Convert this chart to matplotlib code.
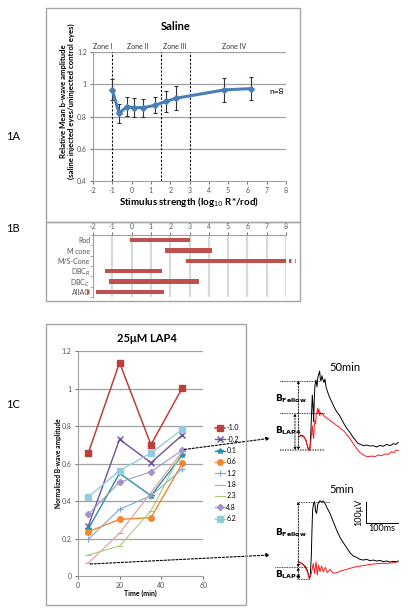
import matplotlib
matplotlib.use("Agg")
import matplotlib.pyplot as plt
from matplotlib.patches import Rectangle

plt.rcParams['font.family'] = ['Lato', 'DejaVu Sans']
plt.rcParams['axes.unicode_minus'] = False

W, H = 408, 615
fig = plt.figure(figsize=(W / 100, H / 100), dpi=100)


def rect(x0, y0, x1, y1):
    return [x0 / W, 1 - y1 / H, (x1 - x0) / W, (y1 - y0) / H]


def fx(x):
    return x / W


def fy(y):
    return 1 - y / H


GRAY = '#A6A6A6'
TICKC = '#555555'

# ---------------- DATA ----------------
# 1A
stim = [-1.0, -0.65, -0.25, 0.1, 0.6, 1.2, 1.8, 2.3, 4.8, 6.2]
rel_amp = [0.965, 0.82, 0.861, 0.855, 0.855, 0.869, 0.894, 0.913, 0.965, 0.973]
rel_err = [0.065, 0.058, 0.058, 0.058, 0.055, 0.05, 0.063, 0.075, 0.072, 0.072]
zone_bounds = [-1.0, 1.5, 3.0]
zone_names = ['Zone I', 'Zone II', 'Zone III', 'Zone IV']
zone_label_x = [-1.5, 0.3, 2.25, 5.3]

# 1B
cells = ['Rod', 'M cone', 'M/S-Cone', 'DBC$_R$', 'DBC$_C$', 'AIIAC']
range_start = [-0.1, 1.72, 2.81, -1.4, -1.17, -1.86]
range_end = [3.0, 4.14, 8.07, 1.6, 3.5, 1.7]

# 1C
times = [5, 20, 35, 50]
series_names = ['-1.0', '-0.2', '0.1', '0.6', '1.2', '1.8', '2.3', '4.8', '6.2']
series_vals = {
    '-1.0': [0.654, 1.138, 0.70, 1.004],
    '-0.2': [0.265, 0.729, 0.604, 0.752],
    '0.1': [0.25, 0.548, 0.428, 0.645],
    '0.6': [0.236, 0.302, 0.311, 0.601],
    '1.2': [0.195, 0.356, 0.428, 0.571],
    '1.8': [0.068, 0.228, 0.445, 0.665],
    '2.3': [0.112, 0.16, 0.347, 0.667],
    '4.8': [0.329, 0.50, 0.556, 0.672],
    '6.2': [0.421, 0.562, 0.656, 0.782],
}

# ERG traces (ms, microvolts)
t50_fellow = [0, 5.2, 10.4, 15.6, 20.8, 25, 29.2, 32.3, 34.4, 36.5, 38.5, 40.6, 42.7, 44.8, 46.9, 49,
              52.1, 55.2, 58.3, 61.5, 63.5, 65.6, 67.7, 70.8, 74, 77.1, 80.2, 83.3, 87.5, 93.8, 101,
              108.3, 116.7, 125, 133.3, 141.7, 150, 158.3, 166.7, 175, 183.3, 191.7, 200, 210.4,
              220.8, 231.3, 241.7, 252.1, 262.5, 272.9, 283.3, 293.8, 302.1, 309.4]
v50_fellow = [0, 7.9, 4.8, -1.6, -17.5, -42.9, -63.5, -66.7, -27, 39.7, 119, 198.4, 150.8, 71.4,
              182.5, 246, 269.8, 238.1, 285.7, 301.6, 312.7, 277.7, 265.1, 290.5, 269.8, 258.7,
              274.6, 238.1, 217.5, 190.5, 166.7, 142.9, 119, 103.2, 79.4, 55.6, 36.5, 20.6, 0,
              -15.9, -31.7, -36.5, -42.9, -39.7, -44.4, -42.9, -49.2, -41.3, -46, -36.5, -42.9,
              -33.3, -36.5, -27]
t50_lap4 = [0, 5.2, 10.4, 15.6, 20.8, 25, 29.2, 32.3, 35.4, 38.5, 40.6, 42.7, 44.8, 46.9, 49, 51,
            53.1, 55.2, 57.3, 59.4, 61.5, 63.5, 66.7, 69.8, 72.9, 77.1, 83.3, 90.6, 97.9, 106.3,
            114.6, 122.9, 131.3, 139.6, 147.9, 156.3, 164.6, 172.9, 181.3, 189.6, 197.9, 206.3,
            215.6, 226, 236.5, 246.9, 257.3, 267.7, 278.1, 288.5, 295.8, 302.1, 309.4]
v50_lap4 = [0, 4.8, 1.6, -3.2, -17.5, -42.9, -63.5, -66.7, -36.5, 23.8, 52.4, 7.9, -7.9, 47.6,
            79.4, 63.5, 106.3, 119, 134.9, 111.1, 131.7, 100, 115.9, 106.3, 111.1, 100, 90.5, 84.1,
            74.6, 66.7, 55.6, 47.6, 36.5, 27, 11.1, -4.8, -23.8, -42.9, -60.3, -76.2, -84.1,
            -92.1, -95.2, -92.1, -95.2, -87.3, -90.5, -82.5, -84.1, -71.4, -76.2, -63.5, -66.7]
t5_fellow = [0, 10.4, 20.8, 28.1, 34.4, 37.5, 40.6, 42.7, 44.8, 47.9, 51.0, 54.2, 57.3, 60.4,
             64.6, 67.7, 72.9, 78.1, 83.3, 90.6, 99.0, 109.4, 119.8, 130.2, 140.6, 151.0, 161.5,
             171.9, 182.3, 192.7, 203.1, 213.5, 223.9, 234.4, 244.8, 255.2, 265.6, 276.0, 286.5,
             296.9, 307.3, 312.5]
v5_fellow = [0, -7.9, -20.6, -39.7, -79.4, -63.5, 23.8, 150.8, 246.0, 277.7, 285.7, 238.1, 230.2,
             269.8, 285.7, 290.5, 284.1, 288.9, 277.7, 254.0, 230.2, 190.5, 150.8, 115.9, 90.5,
             66.7, 42.9, 27.0, 20.6, 11.1, 7.9, 11.1, 4.8, 7.9, 3.2, 6.3, 0, 3.2, -1.6, 1.6, 0, 3.2]
t5_lap4 = [0, 10.4, 20.8, 28.1, 34.4, 38.5, 42.7, 46.9, 51.0, 55.2, 59.4, 63.5, 67.7, 72.9, 78.1,
           84.4, 90.6, 99.0, 109.4, 119.8, 135.4, 151.0, 171.9, 192.7, 213.5, 234.4, 255.2,
           276.0, 296.9, 312.5]
v5_lap4 = [0, -7.9, -23.8, -47.6, -79.4, -71.4, -39.7, -7.9, -55.6, 0, -63.5, -15.9, -47.6,
           -20.6, -47.6, -27.0, -52.4, -36.5, -55.6, -52.4, -42.9, -36.5, -27.0, -20.6, -15.9,
           -11.1, -7.9, -7.9, -4.8, 0]

# ---------------- frames ----------------
for (x0, y0, x1, y1) in [(46, 8, 300, 222), (46, 222, 300, 301), (46, 324, 246, 605)]:
    fig.add_artist(Rectangle((fx(x0), fy(y1)), (x1 - x0) / W, (y1 - y0) / H,
                             transform=fig.transFigure, fill=False, ec=GRAY, lw=1.0))

fig.text(fx(13), fy(137), '1A', fontsize=8, ha='center', va='center')
fig.text(fx(13), fy(229), '1B', fontsize=8, ha='center', va='center')
fig.text(fx(13), fy(405), '1C', fontsize=8, ha='center', va='center')

# ---------------- 1A ----------------
axA = fig.add_axes(rect(93, 52, 286, 181))
axA.set_xlim(-2, 8)
axA.set_ylim(0.4, 1.2)
axA.set_xticks(range(-2, 9))
axA.set_yticks([0.4, 0.6, 0.8, 1.0, 1.2])
axA.set_yticklabels(['0.4', '0.6', '0.8', '1', '1.2'])
for yv in [0.6, 0.8, 1.0, 1.2]:
    axA.axhline(yv, color='#A0A0A0', lw=0.9, zorder=0)
for s in ['top', 'right']:
    axA.spines[s].set_visible(False)
for s in ['left', 'bottom']:
    axA.spines[s].set_color('#A0A0A0')
    axA.spines[s].set_linewidth(0.8)
axA.tick_params(labelsize=5, colors=TICKC, length=2.5, width=0.6, pad=2)
for xb in zone_bounds:
    axA.plot([xb, xb], [0.4, 1.2], ls=(0, (2, 1.5)), color='black', lw=0.8, zorder=1)
for name, xl in zip(zone_names, zone_label_x):
    axA.text(xl, 1.232, name, fontsize=5, ha='center', va='center', color='#333333')
axA.errorbar(stim, rel_amp, yerr=rel_err, color='#4A7EBB', lw=2.2, marker='D', ms=3,
             ecolor='#333333', elinewidth=0.8, capsize=1.6, capthick=0.8, zorder=3)
axA.text(7.53, 0.952, 'n=8', fontsize=6, ha='center', va='center')
fig.text(fx(176), fy(27), 'Saline', fontsize=8, fontweight='bold', ha='center', va='center')
fig.text(fx(67.5), fy(101), 'Relative Mean b-wave amplitude\n(saline injected eyes/uninjected control eyes)',
         fontsize=5.6, fontweight='bold', rotation=90, ha='center', va='center', linespacing=1.05)
fig.text(fx(189), fy(202), 'Stimulus strength (log$_{10}$ R*/rod)', fontsize=7,
         fontweight='bold', ha='center', va='center')

# ---------------- 1B ----------------
axB = fig.add_axes(rect(93, 235, 286, 297))
axB.set_xlim(-2, 8)
axB.set_ylim(5.5, -0.5)
RED = '#C0504D'
for xv in range(-2, 9):
    axB.axvline(xv, color='#D9D9D9', lw=1.6, zorder=0)
ypos = list(range(len(cells)))
axB.barh(ypos, [e - s for s, e in zip(range_start, range_end)], left=range_start,
         height=0.4, color=RED, zorder=2)
axB.plot([8.15, 8.5], [2, 2], color=RED, lw=3, ls=(0, (0.6, 0.9)), clip_on=False, solid_capstyle='butt')
axB.plot([-2.3, -1.95], [5, 5], color=RED, lw=3, ls=(0, (0.6, 0.9)), clip_on=False, solid_capstyle='butt')
axB.xaxis.tick_top()
axB.set_xticks(range(-2, 9))
axB.set_yticks(ypos)
axB.set_yticklabels(cells)
axB.set_yticks([i + 0.5 for i in range(-1, 6)], minor=True)
axB.tick_params(axis='y', which='major', length=0, labelsize=5, colors=TICKC, pad=2)
axB.tick_params(axis='y', which='minor', length=2.5, width=0.6, colors='#A0A0A0')
axB.tick_params(axis='x', labelsize=5, colors=TICKC, length=2, width=0.6, pad=1.5)
for s in ['bottom', 'right']:
    axB.spines[s].set_visible(False)
for s in ['left', 'top']:
    axB.spines[s].set_color('#A0A0A0')
    axB.spines[s].set_linewidth(0.8)

# ---------------- 1C ----------------
axC = fig.add_axes(rect(77.7, 351, 203.3, 576))
axC.set_xlim(0, 60)
axC.set_ylim(0, 1.2)
axC.set_xticks([0, 20, 40, 60])
axC.set_yticks([0, 0.2, 0.4, 0.6, 0.8, 1.0, 1.2])
axC.set_yticklabels(['0', '0.2', '0.4', '0.6', '0.8', '1', '1.2'])
for yv in [0.2, 0.4, 0.6, 0.8, 1.0, 1.2]:
    axC.axhline(yv, color='#A0A0A0', lw=0.9, zorder=0)
for s in ['top', 'right']:
    axC.spines[s].set_visible(False)
for s in ['left', 'bottom']:
    axC.spines[s].set_color('#A0A0A0')
    axC.spines[s].set_linewidth(0.8)
axC.tick_params(labelsize=5, colors=TICKC, length=2.5, width=0.6, pad=2)

styles = {
    '-1.0': dict(color='#B8403D', marker='s', ms=4.5, lw=1.1),
    '-0.2': dict(color='#6F4F9C', marker='x', ms=4, mew=1.0, lw=1.0),
    '0.1': dict(color='#2C8EA8', marker='*', ms=4, lw=1.0),
    '0.6': dict(color='#F0882E', marker='o', ms=4, lw=1.0),
    '1.2': dict(color='#7FA6D6', marker='+', ms=4.5, mew=0.8, lw=0.8),
    '1.8': dict(color='#E09A98', marker='_', ms=4, mew=0.8, lw=0.8),
    '2.3': dict(color='#A6CC7A', marker='_', ms=4, mew=0.8, lw=0.8),
    '4.8': dict(color='#A393C8', marker='D', ms=3.2, lw=0.8),
    '6.2': dict(color='#93CDDD', marker='s', ms=5, lw=1.0),
}
handles = []
for name in series_names:
    ln, = axC.plot(times, series_vals[name], label=name, zorder=3, **styles[name])
    handles.append(ln)
fig.legend(handles=handles, loc='upper left', bbox_to_anchor=(fx(214.5), fy(424.5)),
           frameon=False, fontsize=5, labelspacing=0.62, handlelength=1.45,
           handletextpad=0.25, borderpad=0, borderaxespad=0)
fig.text(fx(147), fy(338), '25μM LAP4', fontsize=8, fontweight='bold', ha='center', va='center')
fig.text(fx(58), fy(463), 'Normalized B-wave amplitude', fontsize=4.8, fontweight='bold',
         rotation=90, ha='center', va='center')
fig.text(fx(140), fy(593), 'Time (min)', fontsize=5, fontweight='bold', ha='center', va='center')

for (xs, ys, yt) in [(51, 0.675, 438.3), (6, 0.064, 555)]:
    axC.annotate('', xy=(fx(270), fy(yt)), xycoords='figure fraction',
                 xytext=(xs, ys), textcoords='data',
                 arrowprops=dict(arrowstyle='-|>', ls=(0, (2, 1.5)), lw=0.8, color='black',
                                 mutation_scale=5, shrinkA=0, shrinkB=0), annotation_clip=False)

# ---------------- ERG traces ----------------
PXMS, PXUV = 0.32, 0.21


def trace_axes(x_origin, y_origin, top, bottom):
    ax = fig.add_axes(rect(270, top, 408, bottom))
    ax.set_xlim((270 - x_origin) / PXMS, (408 - x_origin) / PXMS)
    ax.set_ylim((y_origin - bottom) / PXUV, (y_origin - top) / PXUV)
    ax.axis('off')
    return ax


def darr(ax, x, y0, y1):
    ax.annotate('', xy=(x, y1), xytext=(x, y0),
                arrowprops=dict(arrowstyle='<|-|>', ls=(0, (2, 1.5)), lw=0.6, color='black',
                                mutation_scale=3.5, shrinkA=0, shrinkB=0))


ax50 = trace_axes(299.3, 436.7, 355, 460)
ax50.plot(t50_fellow, v50_fellow, color='black', lw=0.7)
ax50.plot(t50_lap4, v50_lap4, color='#FF1A1A', lw=0.7)
ax50.plot([-60, 65], [267, 267], color='black', lw=0.6, ls=(0, (1, 1)))
ax50.plot([-60, 80], [111, 111], color='black', lw=0.6, ls=(0, (1, 1)))
ax50.plot([-60, 80], [-63, -63], color='#777777', lw=1.5, ls=(0, (0.6, 0.6)))
darr(ax50, -3, -63, 267)
darr(ax50, -13.5, -63, 111)
ax50.text(-76, 182, r'$\mathbf{B_{Fellow}}$', fontsize=6.5, ha='left', va='center')
ax50.text(-76, 27, r'$\mathbf{B_{LAP4}}$', fontsize=6.5, ha='left', va='center')
ax50.text(143, 328, '50min', fontsize=8, ha='center', va='center')

ax5 = trace_axes(298.3, 561.7, 480, 590)
ax5.plot(t5_fellow, v5_fellow, color='black', lw=0.7)
ax5.plot(t5_lap4, v5_lap4, color='#FF1A1A', lw=0.7)
ax5.plot([-5, 99], [286, 286], color='black', lw=0.6, ls=(0, (1, 1)))
ax5.plot([-73, 26], [-27, -27], color='black', lw=0.6, ls=(0, (1, 1)))
ax5.plot([-5, 36], [-84, -84], color='black', lw=0.6, ls=(0, (1, 1)))
darr(ax5, 0, -27, 286)
darr(ax5, 0, -84, -27)
ax5.text(-73, 138, r'$\mathbf{B_{Fellow}}$', fontsize=6.5, ha='left', va='center')
ax5.text(-73, -63, r'$\mathbf{B_{LAP4}}$', fontsize=6.5, ha='left', va='center')
ax5.text(135, 344, '5min', fontsize=8, ha='center', va='center')
ax5.plot([210, 210, 310], [286, 186, 186], color='black', lw=0.7)
ax5.text(190, 236, '100μV', fontsize=6.5, rotation=90, ha='center', va='center')
ax5.text(260, 160, '100ms', fontsize=6.5, ha='center', va='center')

fig.savefig('out.png', dpi=100)
